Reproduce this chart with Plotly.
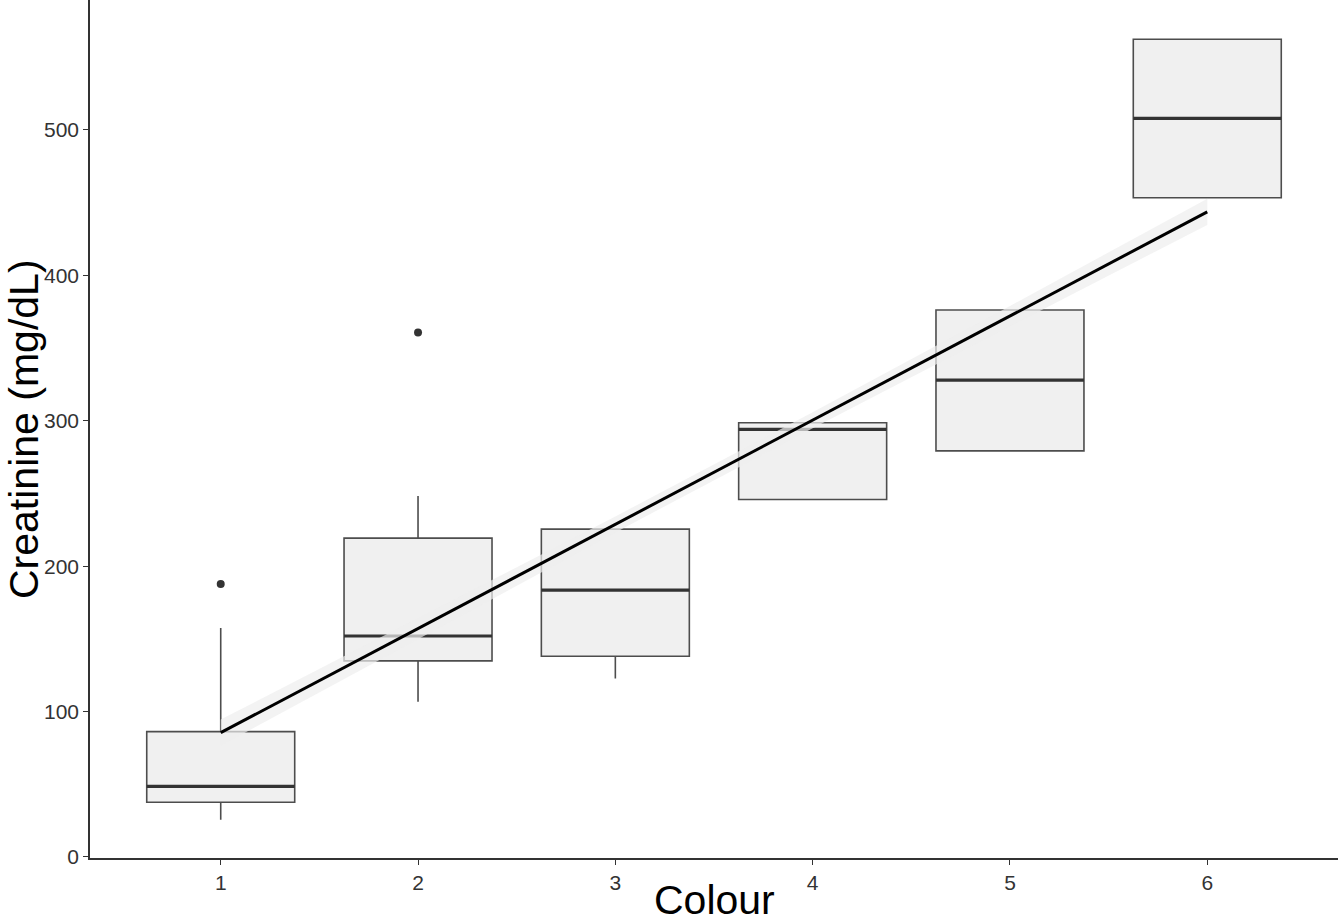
import plotly.graph_objects as go

# ---- data ----
categories = [1, 2, 3, 4, 5, 6]
tick_labels = ["1", "2", "3", "4", "5", "6"]
q1 = [37.6, 134.9, 138.1, 245.9, 279.3, 453.4]
median = [48.6, 152.0, 183.5, 294.1, 328.0, 508.0]
q3 = [86.2, 219.3, 225.5, 298.6, 376.2, 562.4]
lower_whisker = [25.6, 106.7, 122.8, 245.9, 279.3, 453.4]
upper_whisker = [157.4, 248.3, 225.5, 298.6, 376.2, 562.4]
outlier_x = [1, 2]
outlier_y = [187.7, 360.8]
fit_x = [1, 2, 3, 4, 5, 6]
fit_y = [85.5, 157.1, 228.7, 300.4, 372.0, 443.7]
fit_halfwidth = [9.0, 7.0, 5.5, 5.5, 7.0, 9.0]

BOX_WIDTH = 0.75
box_line = "#4d4d4d"
box_fill = "#f0f0f0"
FONT = "Liberation Sans, Arial, sans-serif"

fig = go.Figure()

fig.add_trace(go.Box(
    x=categories, q1=q1, median=median, q3=q3,
    lowerfence=lower_whisker, upperfence=upper_whisker,
    width=BOX_WIDTH, boxpoints=False, whiskerwidth=0,
    fillcolor=box_fill, line=dict(color=box_line, width=1.6),
    showlegend=False, hoverinfo="skip",
))

# thicker median lines (ggplot fatten)
mx, my = [], []
for c, m in zip(categories, median):
    mx += [c - BOX_WIDTH / 2, c + BOX_WIDTH / 2, None]
    my += [m, m, None]
fig.add_trace(go.Scatter(x=mx, y=my, mode="lines",
                         line=dict(color="#333333", width=3.2),
                         showlegend=False, hoverinfo="skip"))

# outliers
fig.add_trace(go.Scatter(x=outlier_x, y=outlier_y, mode="markers",
                         marker=dict(color="#333333", size=8),
                         showlegend=False, hoverinfo="skip"))

# confidence band
upper = [y + h for y, h in zip(fit_y, fit_halfwidth)]
lower = [y - h for y, h in zip(fit_y, fit_halfwidth)]
fig.add_trace(go.Scatter(x=fit_x + fit_x[::-1], y=upper + lower[::-1],
                         fill="toself", fillcolor="rgba(238,238,238,0.7)",
                         line=dict(width=0), mode="lines",
                         showlegend=False, hoverinfo="skip"))

# fit line
fig.add_trace(go.Scatter(x=fit_x, y=fit_y, mode="lines",
                         line=dict(color="black", width=3),
                         showlegend=False, hoverinfo="skip"))

axis_common = dict(
    showgrid=False, zeroline=False, showline=True, automargin=False,
    linecolor="#333333", linewidth=1.5,
    ticks="outside", ticklen=5, tickwidth=1.2, tickcolor="#333333",
    tickfont=dict(family=FONT, size=21, color="#333333"),
)

fig.update_layout(
    width=1340, height=923,
    margin=dict(l=90, r=2, t=0, b=65),
    paper_bgcolor="white", plot_bgcolor="white",
    xaxis=dict(range=[0.3375, 6.6625], tickvals=categories, ticktext=tick_labels,
               **axis_common),
    yaxis=dict(range=[-0.7, 589.4], tickvals=[0, 100, 200, 300, 400, 500],
               **axis_common),
    annotations=[
        dict(text="Colour", xref="paper", yref="paper", x=0.5, y=-0.0195,
             xanchor="center", yanchor="top", showarrow=False,
             font=dict(family=FONT, size=41, color="black")),
        dict(text="Creatinine (mg/dL)", xref="paper", yref="paper",
             x=-66 / 1248, y=0.5, xanchor="center", yanchor="middle",
             textangle=-90, showarrow=False,
             font=dict(family=FONT, size=41, color="black")),
    ],
)

fig.write_html(
    "out.html",
    config={"displayModeBar": False},
    post_script="document.body.style.margin='0';document.body.style.overflow='hidden';",
)
